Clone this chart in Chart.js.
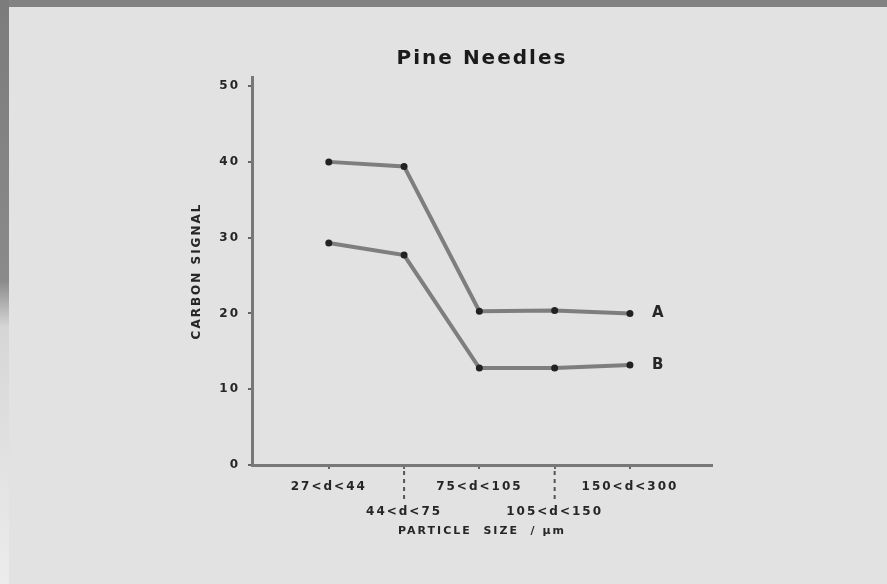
<!DOCTYPE html>
<html>
<head>
<meta charset="utf-8">
<script src="https://cdn.jsdelivr.net/npm/chart.js@4.4.1/dist/chart.umd.min.js"></script>
<style>
  html, body { margin: 0; padding: 0; background: #e2e2e2; }
  #wrap { position: relative; width: 887px; height: 584px; overflow: hidden; background: #e2e2e2; }
  #edgeTop { position: absolute; left: 0; top: 0; width: 887px; height: 7px; background: #828282; }
  #edgeLeft { position: absolute; left: 0; top: 0; width: 9px; height: 584px;
    background: linear-gradient(#7c7c7c 0%, #8a8a8a 48%, #d6d6d6 56%, #ececec 100%); }
  canvas { position: absolute; left: 0; top: 0; }
</style>
</head>
<body>
<div id="wrap">
  <div id="edgeTop"></div>
  <div id="edgeLeft"></div>
  <canvas id="pineChart" width="887" height="584"></canvas>
</div>
<script>
// particle size classes (µm) along the x axis
const sizeLabels = ['27<d<44', '44<d<75', '75<d<105', '105<d<150', '150<d<300'];
// carbon signal
const seriesA = [40.0, 39.4, 20.3, 20.4, 20.0];
const seriesB = [29.3, 27.7, 12.8, 12.8, 13.2];
const seriesNames = ['A', 'B'];
const yTickValues = [0, 10, 20, 30, 40, 50];

const ink = '#262626';
const tickFont = { family: 'DejaVu Sans', size: 12, weight: 'bold' };

function toPoints(values) {
    return values.map((v, i) => ({ x: i, y: v }));
}

// canvas letter spacing to mimic the wide plotter lettering
const spacingPlugin = {
    id: 'spacing',
    beforeLayout(chart) { chart.ctx.letterSpacing = '2px'; },
    beforeDraw(chart) { chart.ctx.letterSpacing = '2px'; }
};

// dashed leaders under the staggered labels, and the A / B end labels
const decorPlugin = {
    id: 'decor',
    afterDraw(chart) {
        const ctx = chart.ctx;
        const xs = chart.scales.x;
        ctx.save();
        ctx.strokeStyle = '#555';
        ctx.lineWidth = 2;
        ctx.setLineDash([4, 4]);
        sizeLabels.forEach((lbl, i) => {
            if (i % 2 === 1) {
                const px = xs.getPixelForValue(i);
                ctx.beginPath();
                ctx.moveTo(px, xs.top + 6);
                ctx.lineTo(px, xs.top + 36);
                ctx.stroke();
            }
        });
        ctx.setLineDash([]);
        ctx.fillStyle = ink;
        ctx.font = 'bold 15px "DejaVu Sans"';
        ctx.textBaseline = 'middle';
        ctx.textAlign = 'left';
        chart.data.datasets.forEach((ds, di) => {
            const pts = chart.getDatasetMeta(di).data;
            const last = pts[pts.length - 1];
            ctx.fillText(seriesNames[di], last.x + 22, last.y);
        });
        ctx.restore();
    }
};

new Chart(document.getElementById('pineChart').getContext('2d'), {
    type: 'line',
    data: {
        datasets: [seriesA, seriesB].map((vals, i) => ({
            label: seriesNames[i],
            data: toPoints(vals),
            borderColor: '#7e7e7e',
            borderWidth: 4,
            pointRadius: 3.5,
            pointBackgroundColor: '#222',
            pointBorderWidth: 0,
            tension: 0
        }))
    },
    options: {
        responsive: false,
        animation: false,
        layout: { padding: { left: 188, right: 175, top: 0, bottom: 0 } },
        plugins: {
            legend: { display: false },
            tooltip: { enabled: false },
            title: {
                display: true,
                fullSize: false,
                text: 'Pine Needles',
                color: '#1a1a1a',
                font: { family: 'DejaVu Sans', size: 20, weight: 'bold', lineHeight: 1.2 },
                padding: { top: 47, bottom: 6 }
            }
        },
        scales: {
            x: {
                type: 'linear',
                min: -1.02,
                max: 5.09,
                afterFit(scale) { scale.height = 119; },
                afterBuildTicks(scale) {
                    scale.ticks = sizeLabels.map((l, i) => ({ value: i }));
                },
                ticks: {
                    color: ink,
                    font: Object.assign({ lineHeight: 2.1 }, tickFont),
                    padding: 5,
                    maxRotation: 0,
                    autoSkip: false,
                    callback(value) {
                        const lbl = sizeLabels[value];
                        return value % 2 === 1 ? ['', lbl] : lbl;
                    }
                },
                grid: { drawOnChartArea: false, drawTicks: true, tickLength: 4, color: '#666', lineWidth: 2 },
                border: { color: '#787878', width: 3 },
                title: {
                    display: true,
                    text: 'PARTICLE  SIZE  / \u03bcm',
                    color: ink,
                    font: { family: 'DejaVu Sans', size: 11, weight: 'bold' },
                    padding: { top: 0, bottom: 46 }
                }
            },
            y: {
                min: 0,
                max: 51.2,
                afterFit(scale) { scale.width = 64; },
                afterBuildTicks(scale) {
                    scale.ticks = yTickValues.map(v => ({ value: v }));
                },
                ticks: { color: ink, font: tickFont, padding: 8 },
                grid: { drawOnChartArea: false, drawTicks: true, tickLength: 4, color: '#666', lineWidth: 2 },
                border: { color: '#787878', width: 3 },
                title: {
                    display: true,
                    text: 'CARBON SIGNAL',
                    color: ink,
                    font: { family: 'DejaVu Sans', size: 12, weight: 'bold' },
                    padding: { top: 2, bottom: 0 }
                }
            }
        }
    },
    plugins: [spacingPlugin, decorPlugin]
});
</script>
</body>
</html>
